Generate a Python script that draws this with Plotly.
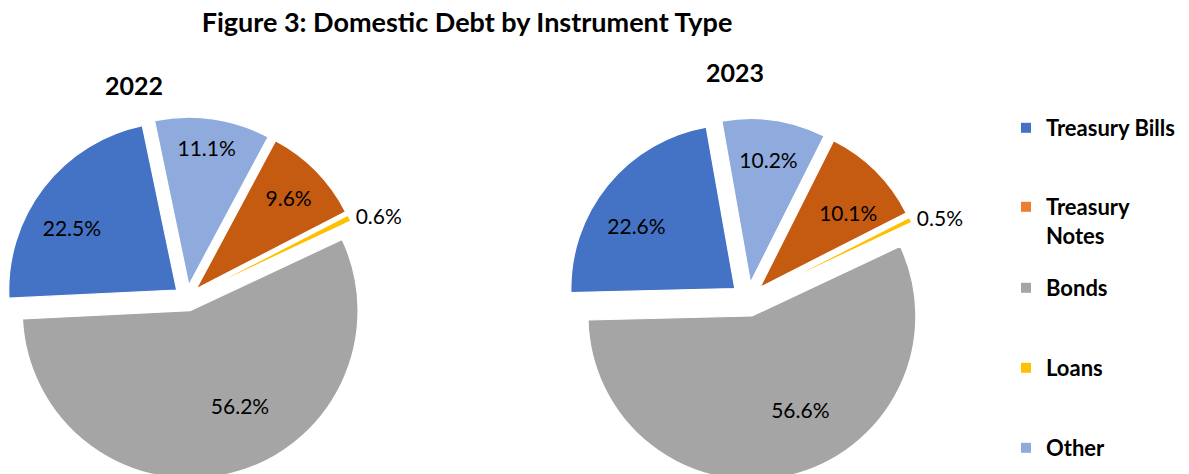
import plotly.graph_objects as go

# ---- data ----
labels = ["Treasury Bills", "Other", "Treasury Notes", "Loans", "Bonds"]
values_2022 = [22.5, 11.1, 9.6, 0.6, 56.2]
values_2023 = [22.6, 10.2, 10.1, 0.5, 56.6]
slice_colors = ["#4472C4", "#8FAADC", "#C55A11", "#FFC000", "#A5A5A5"]
text_pos = ["inside", "inside", "inside", "outside", "inside"]

legend_labels = ["Treasury Bills", "Treasury<br>Notes", "Bonds", "Loans", "Other"]
legend_colors = ["#4472C4", "#ED7D31", "#A5A5A5", "#FFC000", "#8FAADC"]

title_text = "Figure 3: Domestic Debt by Instrument Type"
years = ["2022", "2023"]

W, H = 1189, 484
FONT = "Lato"
NB = "\u00a0"


def px_y(p):
    return 1 - p / H


def px_x(p):
    return p / W


def label_templates(pads):
    # pads: (left nbsp, right nbsp, blank line above, blank line below) per slice
    out = []
    for l, r, above, below in pads:
        t = NB * l + "%{value:.1f}%" + NB * r
        if above:
            t = NB + "<br>" + t
        if below:
            t = t + "<br>" + NB
        out.append(t)
    return out


tmpl_2022 = label_templates([(0, 9, 0, 0), (0, 0, 0, 1), (0, 0, 0, 0), (0, 0, 0, 0), (11, 0, 1, 0)])
tmpl_2023 = label_templates([(0, 8, 0, 0), (0, 0, 0, 0), (0, 0, 1, 0), (0, 0, 0, 0), (11, 0, 1, 0)])

fig = go.Figure()

# 2022 pie
fig.add_trace(go.Pie(
    labels=labels, values=values_2022, sort=False, direction="clockwise",
    rotation=267.2, pull=0.078,
    marker=dict(colors=slice_colors, line=dict(width=1.2, color="white")),
    texttemplate=tmpl_2022, textposition=text_pos,
    insidetextorientation="horizontal",
    textfont=dict(family=FONT, size=21, color="black"),
    showlegend=False, hoverinfo="label+value",
    domain=dict(x=[px_x(6), px_x(368)], y=[px_y(479), px_y(117)]),
))

# 2023 pie
fig.add_trace(go.Pie(
    labels=labels, values=values_2023, sort=False, direction="clockwise",
    rotation=268.6, pull=0.104,
    marker=dict(colors=slice_colors, line=dict(width=1.2, color="white")),
    texttemplate=tmpl_2023, textposition=text_pos,
    insidetextorientation="horizontal",
    textfont=dict(family=FONT, size=21, color="black"),
    showlegend=False, hoverinfo="label+value",
    domain=dict(x=[px_x(567), px_x(929)], y=[px_y(480.5), px_y(118.3)]),
))

# legend entries (one legend each for exact spacing)
legend_centers = [128, 221.5, 288, 368, 448]
layout_legends = {}
for i, (lab, col, yc) in enumerate(zip(legend_labels, legend_colors, legend_centers)):
    key = "legend" if i == 0 else f"legend{i+1}"
    fig.add_trace(go.Scatter(
        x=[None], y=[None], mode="markers", name=lab,
        marker=dict(symbol="square", size=10, color=col),
        legend=key, showlegend=True,
    ))
    layout_legends[key] = dict(
        x=px_x(1006), xanchor="left", y=px_y(yc), yanchor="middle",
        xref="container", yref="container",
        font=dict(family=FONT, size=22, color="black", weight="bold"),
        valign="top", bgcolor="rgba(0,0,0,0)", itemclick=False,
    )

annotations = [
    dict(text=years[0], x=px_x(134), y=px_y(84.5), xref="paper", yref="paper",
         showarrow=False, xanchor="center", yanchor="middle",
         font=dict(family=FONT, size=25, color="black", weight="bold")),
    dict(text=years[1], x=px_x(735), y=px_y(71.7), xref="paper", yref="paper",
         showarrow=False, xanchor="center", yanchor="middle",
         font=dict(family=FONT, size=25, color="black", weight="bold")),
]

fig.update_layout(
    width=W, height=H,
    margin=dict(l=0, r=0, t=0, b=0, autoexpand=False),
    paper_bgcolor="white", plot_bgcolor="white",
    title=dict(text=title_text, x=px_x(467), xanchor="center",
               y=px_y(23), yanchor="middle", xref="paper", yref="paper",
               font=dict(family=FONT, size=27, color="black", weight="bold")),
    xaxis=dict(visible=False), yaxis=dict(visible=False),
    annotations=annotations,
    **layout_legends,
)

fig.write_html(
    "out.html",
    post_script="document.documentElement.style.overflow='hidden';document.body.style.overflow='hidden';document.body.style.margin='0';",
)
